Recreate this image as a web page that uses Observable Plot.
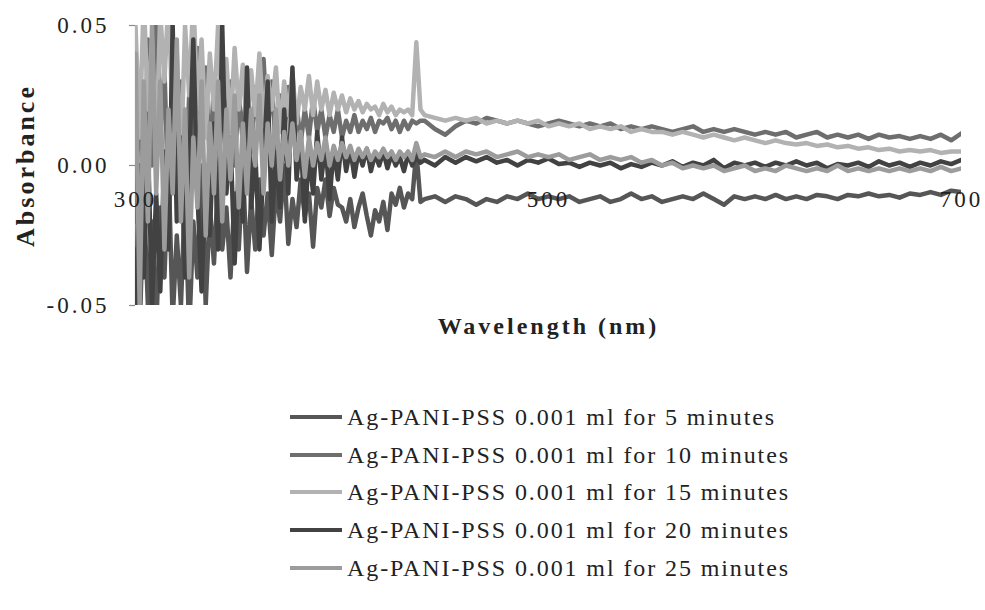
<!DOCTYPE html>
<html>
<head>
<meta charset="utf-8">
<script src="https://cdn.jsdelivr.net/npm/d3@7"></script>
<script src="https://cdn.jsdelivr.net/npm/@observablehq/plot@0.6"></script>
<style>
  html, body { margin: 0; padding: 0; background: #fff; }
  #wrap { position: relative; width: 985px; height: 610px; overflow: hidden; font-family: "Liberation Serif", "Times New Roman", serif; }
  #chart { position: absolute; left: 0; top: 0; }
  .leg { position: absolute; left: 290px; display: flex; align-items: center; height: 30px; }
  .leg .sw { width: 52px; height: 4px; margin-right: 5px; }
  .leg span { font-size: 24px; color: #222; white-space: nowrap; letter-spacing: 1.9px; }
  .num { letter-spacing: 3px; }
  .ttl { letter-spacing: 3px; }
</style>
</head>
<body>
<div id="wrap"><div id="chart"></div><div id="legend"></div></div>
<script>
// Wavelength grid (nm)
const wavelengths = [
  300,302,304,306,308,310,312,314,316,318,
  320,322,324,326,328,330,332,334,336,338,
  340,342,344,346,348,350,352,354,356,358,
  360,362,364,366,368,370,372,374,376,378,
  380,382,384,386,388,390,392,394,396,398,
  400,402,404,406,408,410,412,414,416,418,
  420,422,424,426,428,430,432,434,436,438,
  440,445,450,455,460,465,470,475,480,485,
  490,495,500,505,510,515,520,525,530,535,
  540,545,550,555,560,565,570,575,580,585,
  590,595,600,605,610,615,620,625,630,635,
  640,645,650,655,660,665,670,675,680,685,
  690,695,700
];

const seriesNames = [
  "Ag-PANI-PSS 0.001 ml for 5 minutes",
  "Ag-PANI-PSS 0.001 ml for 10 minutes",
  "Ag-PANI-PSS 0.001 ml for 15 minutes",
  "Ag-PANI-PSS 0.001 ml for 20 minutes",
  "Ag-PANI-PSS 0.001 ml for 25 minutes"
];
const seriesColors = ["#565656", "#6e6e6e", "#b2b2b2", "#424242", "#9c9c9c"];

const abs5min = [
  -0.03,-0.06,-0.01,-0.05,-0.02,-0.06,-0.015,-0.04,0.0,-0.055,
  -0.025,-0.05,-0.01,-0.06,-0.02,-0.04,0.0,-0.05,-0.015,-0.035,
  -0.005,-0.03,-0.015,-0.04,-0.01,-0.03,0.0,-0.038,-0.012,-0.03,
  -0.005,-0.025,-0.01,-0.032,-0.008,-0.02,0.0,-0.028,-0.012,-0.022,
  -0.005,-0.018,-0.01,-0.029,-0.008,-0.015,-0.005,-0.018,-0.008,-0.014,
  -0.015,-0.02,-0.012,-0.022,-0.015,-0.01,-0.018,-0.025,-0.016,-0.02,
  -0.013,-0.023,-0.01,-0.014,-0.008,-0.015,-0.01,-0.012,0.005,-0.013,
  -0.012,-0.011,-0.013,-0.011,-0.012,-0.014,-0.012,-0.013,-0.011,-0.012,
  -0.010,-0.012,-0.011,-0.012,-0.011,-0.013,-0.012,-0.011,-0.013,-0.012,
  -0.010,-0.012,-0.011,-0.013,-0.012,-0.011,-0.012,-0.010,-0.012,-0.014,
  -0.011,-0.012,-0.011,-0.012,-0.0105,-0.012,-0.011,-0.012,-0.0105,-0.011,
  -0.012,-0.0105,-0.011,-0.010,-0.011,-0.0105,-0.0115,-0.010,-0.0105,-0.0095,
  -0.0105,-0.009,-0.0095
];
const abs10min = [
  -0.02,0.03,-0.01,0.045,0.0,0.06,0.01,0.035,-0.015,0.04,
  0.005,0.03,-0.01,0.025,0.0,0.042,0.01,0.035,0.0,0.03,
  0.005,0.038,0.01,0.03,0.0,0.025,0.008,0.032,0.005,0.028,
  0.01,0.038,0.012,0.03,0.005,0.025,0.01,0.028,0.012,0.022,
  0.008,0.02,0.01,0.024,0.012,0.02,0.01,0.018,0.012,0.02,
  0.01,0.016,0.012,0.018,0.012,0.016,0.013,0.017,0.012,0.016,
  0.015,0.017,0.013,0.016,0.012,0.016,0.013,0.016,0.015,0.016,
  0.016,0.013,0.011,0.014,0.016,0.015,0.017,0.016,0.015,0.016,
  0.015,0.014,0.015,0.016,0.015,0.014,0.015,0.014,0.015,0.013,
  0.014,0.013,0.014,0.013,0.012,0.013,0.014,0.012,0.013,0.012,
  0.013,0.012,0.011,0.012,0.011,0.012,0.010,0.011,0.012,0.010,
  0.011,0.010,0.011,0.0095,0.011,0.010,0.0105,0.0095,0.0105,0.0095,
  0.011,0.009,0.0115
];
const abs15min = [
  0.05,0.01,0.06,0.02,0.045,0.005,0.055,0.03,0.06,0.015,
  0.04,0.0,0.05,0.025,0.06,0.02,0.045,0.01,0.04,0.02,
  0.05,0.015,0.038,0.012,0.042,0.02,0.036,0.01,0.034,0.018,
  0.04,0.015,0.032,0.02,0.035,0.012,0.03,0.018,0.033,0.015,
  0.028,0.02,0.032,0.018,0.03,0.02,0.027,0.018,0.026,0.02,
  0.025,0.019,0.024,0.02,0.023,0.019,0.022,0.02,0.021,0.018,
  0.022,0.019,0.021,0.018,0.02,0.019,0.02,0.018,0.044,0.02,
  0.018,0.017,0.016,0.017,0.016,0.017,0.015,0.016,0.015,0.016,
  0.015,0.016,0.014,0.015,0.014,0.015,0.013,0.014,0.013,0.014,
  0.012,0.013,0.012,0.012,0.011,0.012,0.011,0.010,0.011,0.010,
  0.009,0.010,0.009,0.008,0.009,0.008,0.0075,0.008,0.007,0.0075,
  0.0065,0.007,0.006,0.0065,0.0055,0.006,0.005,0.0055,0.005,0.0055,
  0.0045,0.005,0.005
];
const abs20min = [
  -0.06,0.0,-0.04,0.01,-0.05,-0.01,-0.045,0.005,-0.03,0.05,
  -0.02,0.01,-0.04,0.0,0.045,-0.01,-0.045,0.0,-0.025,0.015,
  -0.03,0.05,-0.01,0.01,-0.035,0.0,-0.02,0.035,-0.015,0.005,
  -0.03,0.0,0.03,-0.02,0.005,-0.015,0.02,-0.01,0.035,-0.005,
  0.01,-0.02,0.005,-0.01,0.012,-0.005,0.008,-0.012,0.006,-0.005,
  0.01,-0.002,0.006,-0.004,0.005,0.0,0.006,-0.002,0.004,0.0,
  0.005,-0.001,0.004,0.0,0.003,-0.002,0.004,0.0,0.003,0.001,
  0.002,0.0,0.003,0.001,0.003,0.0015,0.003,0.001,0.002,0.0,
  0.002,0.001,0.0025,0.0005,0.001,-0.0005,0.001,0.0,0.001,-0.001,
  0.0005,-0.0005,0.001,0.0,0.0015,-0.0005,0.001,0.0,0.002,-0.001,
  0.001,0.0,0.001,-0.0005,0.001,0.0,0.0015,0.0,0.001,-0.001,
  0.0005,0.0,0.001,-0.0005,0.0015,0.0,0.001,-0.0005,0.001,0.0,
  0.0015,0.0005,0.002
];
const abs25min = [
  0.04,-0.05,0.03,-0.02,0.05,-0.01,0.03,-0.03,0.02,-0.01,
  0.045,-0.02,0.02,-0.04,0.01,-0.015,0.03,-0.025,0.015,-0.01,
  0.03,-0.02,0.02,-0.005,0.025,-0.015,0.015,-0.01,0.02,0.0,
  0.025,-0.01,0.015,0.0,0.02,-0.005,0.012,0.0,0.015,0.002,
  0.012,-0.004,0.01,0.0,0.008,0.002,0.01,0.0,0.007,0.002,
  0.008,0.003,0.007,0.002,0.006,0.003,0.006,0.002,0.005,0.003,
  0.006,0.003,0.005,0.002,0.005,0.003,0.005,0.002,0.008,0.003,
  0.004,0.003,0.005,0.003,0.005,0.004,0.005,0.003,0.004,0.005,
  0.003,0.004,0.003,0.004,0.002,0.003,0.004,0.002,0.003,0.002,
  0.003,0.001,0.002,0.0,0.001,-0.001,0.0,-0.001,0.0,-0.002,
  -0.001,0.0,-0.002,-0.001,-0.002,0.0,-0.001,-0.002,-0.001,-0.002,
  0.0,-0.002,-0.001,-0.002,-0.001,-0.002,-0.001,-0.002,-0.001,-0.002,
  -0.0005,-0.002,-0.001
];

const xTicks = [300, 500, 700];
const yTicks = [-0.05, 0, 0.05];

const allSeries = [abs5min, abs10min, abs15min, abs20min, abs25min];
const rows = [];
allSeries.forEach((vals, si) => {
  vals.forEach((v, i) => rows.push({series: seriesNames[si], wl: wavelengths[i], abs: v}));
});

const chart = Plot.plot({
  width: 985,
  height: 370,
  marginTop: 25,
  marginBottom: 65,
  marginLeft: 135,
  marginRight: 24,
  style: {fontFamily: "Liberation Serif, serif", background: "white", color: "#222"},
  x: {type: "linear", domain: [300, 700], axis: null},
  y: {type: "linear", domain: [-0.05, 0.05], axis: null},
  color: {domain: seriesNames, range: seriesColors},
  marks: [
    Plot.ruleX([300], {y1: -0.05, y2: 0.05, stroke: "#8a8a8a", strokeWidth: 1.2}),
    Plot.axisY({ticks: yTicks, tickSize: 6, tickFormat: () => "", label: null, stroke: "#8a8a8a", strokeWidth: 1.2}),
    Plot.line(rows, {x: "wl", y: "abs", z: "series", stroke: "series", strokeWidth: 4.5, clip: true}),
    Plot.text(yTicks, {x: 300, y: d => d, text: d => d.toFixed(2), textAnchor: "end", dx: -26, fontSize: 23, fill: "#222", className: "num"}),
    Plot.text(xTicks, {x: d => d, y: 0, text: d => String(d), dy: 34, fontSize: 23, fill: "#222", className: "num"}),
    Plot.text(["Absorbance"], {frameAnchor: "left", textAnchor: "middle", dx: -110, rotate: -90, fontWeight: "bold", fontSize: 26, fill: "#222", className: "ttl"}),
    Plot.text(["Wavelength (nm)"], {frameAnchor: "bottom", textAnchor: "middle", dy: 28, fontWeight: "bold", fontSize: 24, fill: "#222", className: "ttl"})
  ]
});
document.getElementById("chart").appendChild(chart);

// Legend
const legendTops = [417, 455, 492, 530, 568];
const leg = document.getElementById("legend");
seriesNames.forEach((name, i) => {
  const row = document.createElement("div");
  row.className = "leg";
  row.style.top = (legendTops[i] - 15) + "px";
  const sw = document.createElement("div");
  sw.className = "sw";
  sw.style.background = seriesColors[i];
  const t = document.createElement("span");
  t.textContent = name;
  row.appendChild(sw);
  row.appendChild(t);
  leg.appendChild(row);
});
</script>
</body>
</html>
